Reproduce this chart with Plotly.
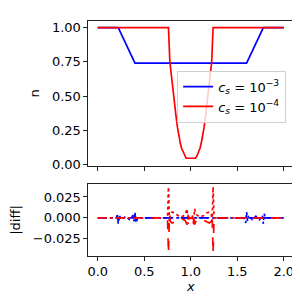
import plotly.graph_objects as go

# ---- top panel data ----
x_blue = [0.0, 0.22, 0.40, 1.60, 1.78, 2.0]
n_blue = [1.0, 1.0, 0.74, 0.74, 1.0, 1.0]

x_red = [0.0, 0.76, 0.775, 0.79, 0.80, 0.815, 0.84, 0.857, 0.87, 0.886, 0.90, 0.92, 0.935, 0.95,
         1.05, 1.065, 1.08, 1.10, 1.114, 1.13, 1.143, 1.16, 1.185, 1.20, 1.21, 1.225, 1.24, 2.0]
n_red = [1.0, 1.0, 0.75, 0.65, 0.60, 0.50, 0.36, 0.27, 0.21, 0.16, 0.12, 0.085, 0.06, 0.045,
         0.045, 0.06, 0.085, 0.12, 0.16, 0.21, 0.27, 0.36, 0.50, 0.60, 0.65, 0.75, 1.0, 1.0]

# ---- bottom panel data ----
xd_blue1 = [0.0, 0.20, 0.21, 0.22, 0.23, 0.26, 0.30, 0.34, 0.38, 0.39, 0.40, 0.41, 0.43,
            1.57, 1.59, 1.60, 1.61, 1.62, 1.66, 1.70, 1.74, 1.77, 1.78, 1.79, 1.80, 2.0]
d_blue1 = [0.0, 0.0, 0.005, -0.007, 0.003, -0.002, 0.002, -0.002, 0.003, -0.004, 0.007, -0.006, 0.0,
           0.0, -0.006, 0.007, -0.004, 0.003, -0.002, 0.002, -0.002, 0.003, -0.007, 0.005, 0.0, 0.0]

xd_blue2 = [0.0, 0.21, 0.22, 0.23, 0.39, 0.40, 0.41, 1.59, 1.60, 1.61, 1.77, 1.78, 1.79, 2.0]
d_blue2 = [0.0, 0.0, -0.003, 0.0, 0.0, 0.003, 0.0, 0.0, 0.003, 0.0, 0.0, -0.003, 0.0, 0.0]

xd_red1 = [0.0, 0.75, 0.76, 0.77, 0.78, 0.80, 0.83, 0.86, 0.90, 0.94, 0.96, 0.97, 0.98, 1.00,
           1.02, 1.03, 1.04, 1.06, 1.10, 1.14, 1.17, 1.20, 1.22, 1.23, 1.24, 1.25, 2.0]
d_red1 = [0.0, 0.0, 0.037, -0.004, 0.004, 0.007, 0.006, 0.003, 0.001, 0.004, 0.011, -0.007, 0.002, 0.001,
          0.002, -0.007, 0.011, 0.004, 0.001, 0.003, 0.006, 0.007, 0.004, -0.004, 0.037, 0.0, 0.0]

xd_red2 = [0.0, 0.75, 0.76, 0.77, 0.78, 0.80, 0.83, 0.86, 0.90, 0.94, 0.96, 0.97, 0.98, 1.00,
           1.02, 1.03, 1.04, 1.06, 1.10, 1.14, 1.17, 1.20, 1.22, 1.23, 1.24, 1.25, 2.0]
d_red2 = [0.0, 0.0, -0.042, 0.003, -0.004, -0.006, -0.005, -0.003, -0.001, -0.003, -0.008, 0.004, -0.001, 0.0,
          -0.001, 0.004, -0.008, -0.003, -0.001, -0.003, -0.005, -0.006, -0.004, 0.003, -0.042, 0.0, 0.0]

x_ticks = [0.0, 0.5, 1.0, 1.5, 2.0]
x_ticklabels = ["0.0", "0.5", "1.0", "1.5", "2.0"]
n_ticks = [0.0, 0.25, 0.5, 0.75, 1.0]
n_ticklabels = ["0.00", "0.25", "0.50", "0.75", "1.00"]
d_ticks = [-0.025, 0.0, 0.025]
d_ticklabels = ["\u22120.025", "0.000", "0.025"]

legend_labels = ["<i>c<sub>s</sub></i> = 10<sup>\u22123</sup>",
                 "<i>c<sub>s</sub></i> = 10<sup>\u22124</sup>"]

FONT = "DejaVu Sans"
LW = 1.7
fig = go.Figure()

fig.add_trace(go.Scatter(x=x_blue, y=n_blue, mode="lines", line=dict(color="blue", width=LW),
                         name=legend_labels[0], xaxis="x", yaxis="y"))
fig.add_trace(go.Scatter(x=x_red, y=n_red, mode="lines", line=dict(color="red", width=LW),
                         name=legend_labels[1], xaxis="x", yaxis="y"))

fig.add_trace(go.Scatter(x=xd_blue1, y=d_blue1, mode="lines", line=dict(color="blue", width=LW, dash="dot"),
                         showlegend=False, xaxis="x2", yaxis="y2"))
fig.add_trace(go.Scatter(x=xd_red1, y=d_red1, mode="lines", line=dict(color="red", width=LW, dash="dot"),
                         showlegend=False, xaxis="x2", yaxis="y2"))
fig.add_trace(go.Scatter(x=xd_blue2, y=d_blue2, mode="lines", line=dict(color="blue", width=LW, dash="dash"),
                         showlegend=False, xaxis="x2", yaxis="y2"))
fig.add_trace(go.Scatter(x=xd_red2, y=d_red2, mode="lines", line=dict(color="red", width=LW, dash="dash"),
                         showlegend=False, xaxis="x2", yaxis="y2"))

axis_common = dict(showline=True, linecolor="#222", linewidth=1, mirror=True, ticks="outside",
                   ticklen=4, tickwidth=1, tickcolor="#222", showgrid=False, zeroline=False,
                   tickfont=dict(family=FONT, size=13, color="black"))

fig.update_layout(
    width=300, height=300,
    margin=dict(l=0, r=0, t=0, b=0),
    paper_bgcolor="white", plot_bgcolor="white",
    font=dict(family=FONT, size=13, color="black"),
    xaxis=dict(domain=[0.2667, 0.9533], range=[-0.1, 2.1], tickvals=x_ticks, showticklabels=False,
               anchor="y", **axis_common),
    yaxis=dict(domain=[0.4633, 0.9567], range=[-0.01, 1.05], tickvals=n_ticks, ticktext=n_ticklabels,
               anchor="x", title=dict(text="n", standoff=9, font=dict(family=FONT, size=13)),
               **axis_common),
    xaxis2=dict(domain=[0.2667, 0.9533], range=[-0.1, 2.1], tickvals=x_ticks, ticktext=x_ticklabels,
                anchor="y2", **axis_common),
    yaxis2=dict(domain=[0.1577, 0.4], range=[-0.045, 0.040], tickvals=d_ticks, ticktext=d_ticklabels,
                anchor="x2", title=dict(text="|diff|", standoff=9, font=dict(family=FONT, size=13)),
                **axis_common),
    legend=dict(x=0.93, y=0.787, xanchor="right", yanchor="top", bgcolor="rgba(255,255,255,0.8)",
                bordercolor="#d0d0d0", borderwidth=1, font=dict(family=FONT, size=13),
                tracegroupgap=0, itemwidth=30),
    annotations=[dict(text="<i>x</i>", x=0.61, y=0.0, xref="paper", yref="paper",
                      xanchor="center", yanchor="bottom", yshift=6, showarrow=False,
                      font=dict(family=FONT, size=13, color="black"))],
)

fig.write_html("out.html")
